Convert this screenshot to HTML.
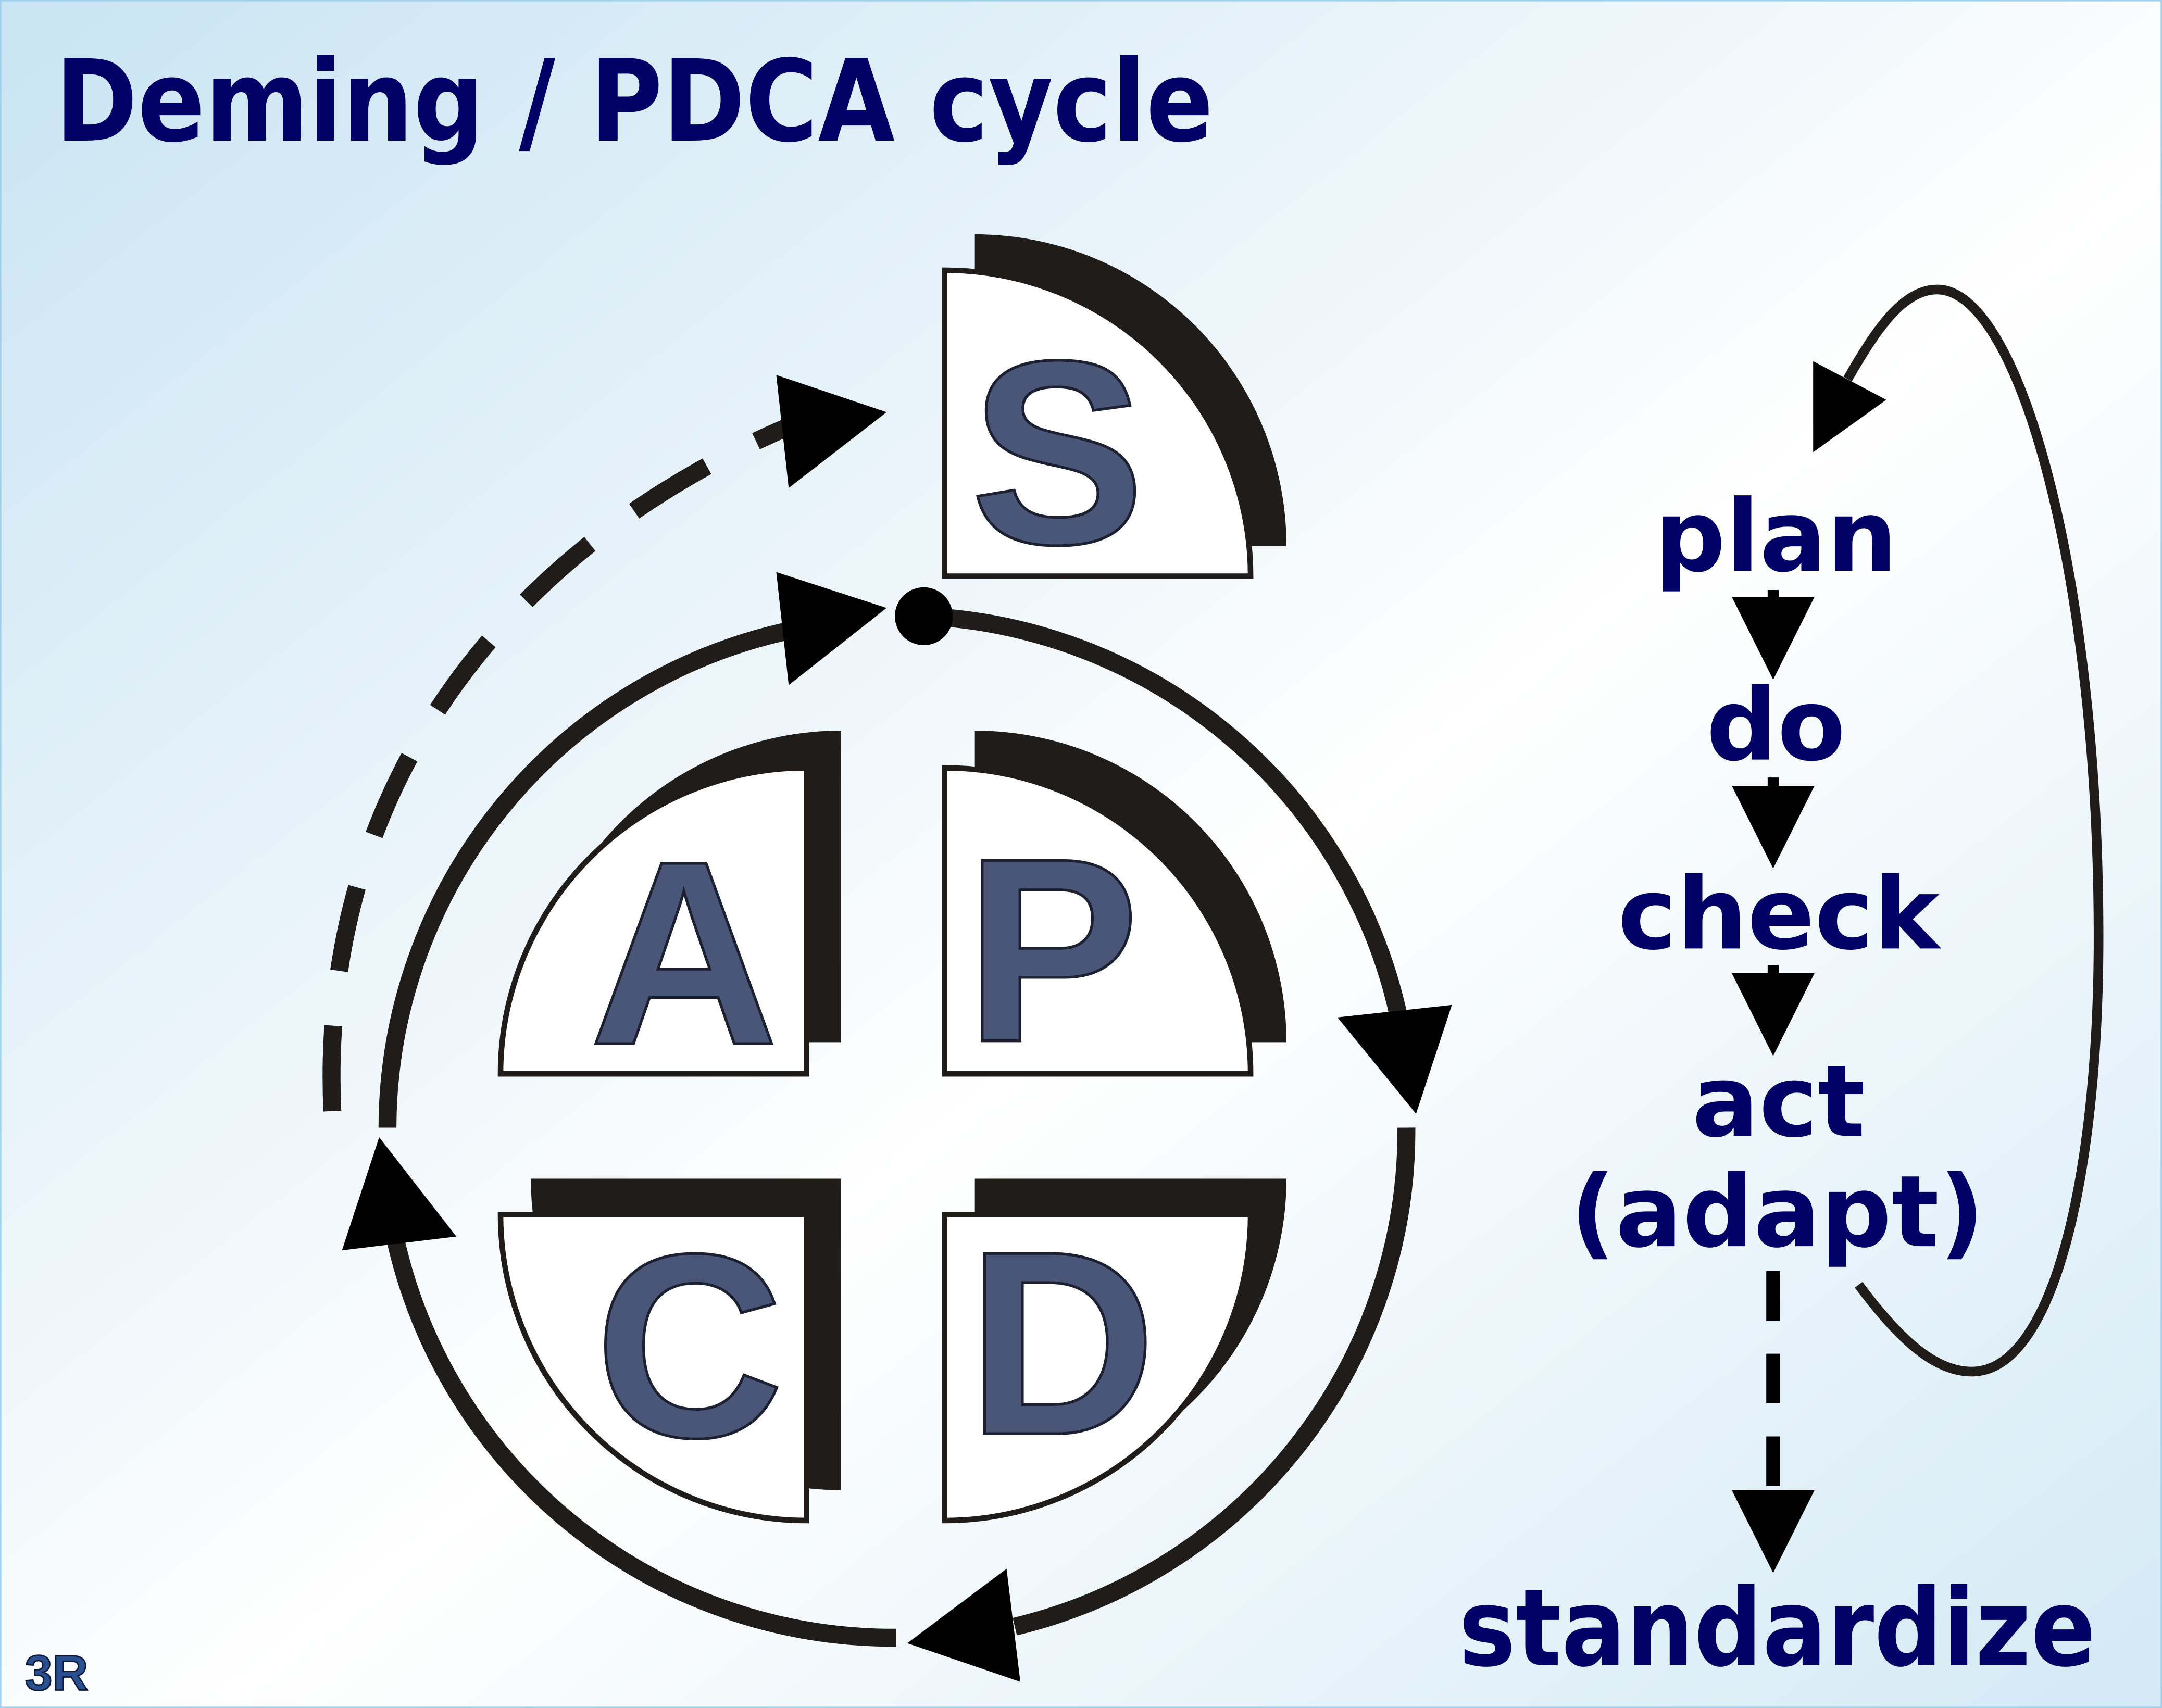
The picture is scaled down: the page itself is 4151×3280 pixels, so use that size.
<!DOCTYPE html>
<html><head><meta charset="utf-8"><style>
html,body{margin:0;padding:0;width:4151px;height:3280px;overflow:hidden}
svg{display:block}
</style></head><body>
<svg width="4151" height="3280" viewBox="0 0 1568 1239" xmlns="http://www.w3.org/2000/svg">
<defs>
<linearGradient id="bg" x1="0" y1="0" x2="1" y2="1">
<stop offset="0" stop-color="#c9e4f3"/>
<stop offset="0.45" stop-color="#f4f9fc"/>
<stop offset="0.55" stop-color="#ffffff"/>
<stop offset="1" stop-color="#d3e9f5"/>
</linearGradient>
</defs>
<rect x="0" y="0" width="1568" height="1239" fill="url(#bg)"/>
<rect x="0.5" y="0.5" width="1567" height="1238" fill="none" stroke="#9fd0ec" stroke-width="1"/>

<text x="40" y="102" font-family="DejaVu Sans, Liberation Sans, sans-serif" font-weight="bold" font-size="82" fill="#000066" textLength="840" lengthAdjust="spacingAndGlyphs">Deming / PDCA cycle</text>

<g fill="#201c1a">
<path d="M707,170 A226,226 0 0 1 933,396 L707,396 Z"/>
<path d="M707,530 A226,226 0 0 1 933,756 L707,756 Z"/>
<path d="M610,530 A226,226 0 0 0 384,756 L610,756 Z"/>
<path d="M385,855 L610,855 L610,1081 A226,226 0 0 1 385,855 Z"/>
<path d="M707,855 L933,855 A226,226 0 0 1 707,1081 Z"/>
</g>
<g fill="#ffffff" stroke="#201c1a" stroke-width="4">
<path d="M685,196 A222,222 0 0 1 907,418 L685,418 Z"/>
<path d="M685,557 A222,222 0 0 1 907,779 L685,779 Z"/>
<path d="M585,557 A222,222 0 0 0 363,779 L585,779 Z"/>
<path d="M363,881 L585,881 L585,1103 A222,222 0 0 1 363,881 Z"/>
<path d="M685,881 L907,881 A222,222 0 0 1 685,1103 Z"/>
</g>
<g font-family="Liberation Sans, Arial, sans-serif" font-weight="bold" font-size="190" fill="#4a5678" stroke="#1c2030" stroke-width="2">
<text x="767" y="394" text-anchor="middle">S</text>
<text x="763" y="755" text-anchor="middle">P</text>
<text x="496" y="757" text-anchor="middle">A</text>
<text x="500" y="1042" text-anchor="middle">C</text>
<text x="770" y="1040" text-anchor="middle">D</text>
</g>

<g fill="none" stroke="#201c1a" stroke-width="13">
<path d="M670,447 A370,370 0 0 1 1015,740"/>
<path d="M1020,818 A370,370 0 0 1 736,1180"/>
<path d="M650,1188 A370,370 0 0 1 287,900"/>
<path d="M281,818 A370,370 0 0 1 570,458"/>
<path d="M241,806 C230,560 380,385 590,302" stroke-dasharray="62,40"/>
</g>
<g fill="#000">
<polygon points="970,738 1053,729 1027,808"/>
<polygon points="730,1138 740,1220 658,1192"/>
<polygon points="248,907 331,897 275,825"/>
<polygon points="563,415 572,497 643,441"/>
<polygon points="563,272 572,354 643,299"/>
<circle cx="670" cy="447" r="21"/>
</g>

<g font-family="DejaVu Sans, Liberation Sans, sans-serif" font-weight="bold" font-size="72" fill="#000066" text-anchor="middle">
<text x="1288" y="414">plan</text>
<text x="1288" y="551">do</text>
<text x="1290" y="688">check</text>
<text x="1290" y="824">act</text>
<text x="1289" y="904">(adapt)</text>
<text x="1289" y="1208" font-size="78" textLength="462" lengthAdjust="spacingAndGlyphs">standardize</text>
</g>
<g fill="#000" stroke="#000">
<line x1="1286" y1="428" x2="1286" y2="440" stroke-width="8"/>
<polygon points="1256,433 1316,433 1286,493" stroke="none"/>
<line x1="1286" y1="564" x2="1286" y2="575" stroke-width="8"/>
<polygon points="1256,570 1316,570 1286,630" stroke="none"/>
<line x1="1286" y1="700" x2="1286" y2="711" stroke-width="8"/>
<polygon points="1256,706 1316,706 1286,766" stroke="none"/>
<line x1="1286" y1="922" x2="1286" y2="1082" stroke-width="10" stroke-dasharray="36,24"/>
<polygon points="1256,1081 1316,1081 1286,1141" stroke="none"/>
</g>
<path d="M1348,932 C1380,975 1405,995 1430,995 C1490,995 1522,850 1522,680 C1522,420 1465,210 1405,210 C1380,210 1360,240 1340,275" fill="none" stroke="#201c1a" stroke-width="7"/>
<polygon points="1315,262 1368,290 1315,328" fill="#000"/>

<text x="18" y="1226" font-family="Liberation Sans, sans-serif" font-weight="bold" font-size="36" fill="#2a4f8f" stroke="#0a1a3a" stroke-width="1">3R</text>
</svg>
</body></html>
